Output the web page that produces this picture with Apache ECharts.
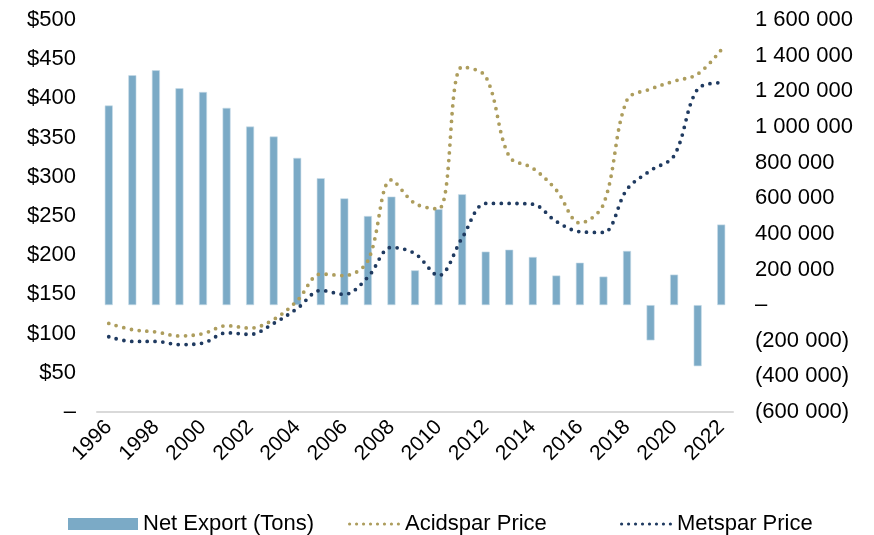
<!DOCTYPE html>
<html><head><meta charset="utf-8">
<script src="https://cdn.jsdelivr.net/npm/echarts@6/dist/echarts.min.js"></script>
<style>html,body{margin:0;padding:0;background:#fff}#c{width:874px;height:535px}</style>
</head><body><div id="c"></div>
<script>
const years = ['1996','1997','1998','1999','2000','2001','2002','2003','2004','2005','2006','2007','2008','2009','2010','2011','2012','2013','2014','2015','2016','2017','2018','2019','2020','2021','2022'];
const netExport = [1120000,1290000,1318000,1217000,1196000,1107000,1002000,946000,826000,712000,599000,500000,609000,195000,538000,622000,300000,311000,270000,166000,238000,160000,304000,-198000,171000,-343000,452000];
const acidspar = [113,105,102,97,100,110,107,118,142,176,174,193,296,266,259,440,428,326,311,283,241,265,398,412,422,431,462];
const metspar = [96,90,90,86,88,101,99,113,132,155,150,172,210,202,174,222,266,266,265,243,230,229,284,308,327,412,420];

const font = '"Liberation Sans", Arial, sans-serif';
function fmtRight(v){
  if (v === 0) return '–';
  const s = Math.abs(v).toString().replace(/\B(?=(\d{3})+(?!\d))/g, ' ');
  return v < 0 ? '(' + s + ')' : s;
}
let dots = '';
for (let i = 0; i < 8; i++) { const x = i * 7; dots += `M${x},1.6a1.6,1.6 0 1,0 3.2,0a1.6,1.6 0 1,0 -3.2,0z`; }
const dotIcon = 'path://' + dots;
const legText = {fontFamily:font,fontSize:22,color:'#000'};
const chart = echarts.init(document.getElementById('c'));
chart.setOption({
  animation:false,
  textStyle:{fontFamily:font},
  grid:{left:97,right:141,top:20,bottom:123},
  legend:[
    {left:63, top:508, itemWidth:70, itemHeight:12, itemGap:8, textStyle:legText,
     itemStyle:{borderWidth:0},
     data:[{name:'Net Export (Tons)',icon:'rect'}]},
    {left:343, top:508, itemWidth:52, itemHeight:3.2, itemGap:5, textStyle:legText,
     data:[{name:'Acidspar Price',icon:dotIcon}]},
    {left:615, top:508, itemWidth:52, itemHeight:3.2, itemGap:5, textStyle:legText,
     data:[{name:'Metspar Price',icon:dotIcon}]}
  ],
  xAxis:{
    type:'category', data:years,
    axisLine:{lineStyle:{color:'#d9d9d9',width:2}},
    axisTick:{show:false},
    axisLabel:{interval:1,rotate:45,fontSize:21,color:'#000',fontFamily:font,margin:12}
  },
  yAxis:[
    {type:'value',min:0,max:500,interval:50,splitLine:{show:false},
     axisLabel:{fontSize:22,color:'#000',fontFamily:font,margin:21,formatter:v=>v===0?'–':'$'+v}},
    {type:'value',min:-600000,max:1600000,interval:200000,splitLine:{show:false},
     axisLabel:{fontSize:22,color:'#000',fontFamily:font,margin:22,formatter:fmtRight}}
  ],
  series:[
    {name:'Net Export (Tons)',type:'bar',yAxisIndex:1,data:netExport,barWidth:8,
     itemStyle:{color:'#7BAAC6',borderColor:'#C8DCE8',borderWidth:0.6}},
    {name:'Acidspar Price',type:'line',yAxisIndex:0,data:acidspar,smooth:0.35,symbol:'none',
     lineStyle:{color:'#AD9D5D',width:3.8,type:[0,7.8],cap:'round'},itemStyle:{color:'#AD9D5D'}},
    {name:'Metspar Price',type:'line',yAxisIndex:0,data:metspar,smooth:0.35,symbol:'none',
     lineStyle:{color:'#1F3A60',width:3.8,type:[0,7.8],cap:'round'},itemStyle:{color:'#1F3A60'}}
  ]
});
</script></body></html>
